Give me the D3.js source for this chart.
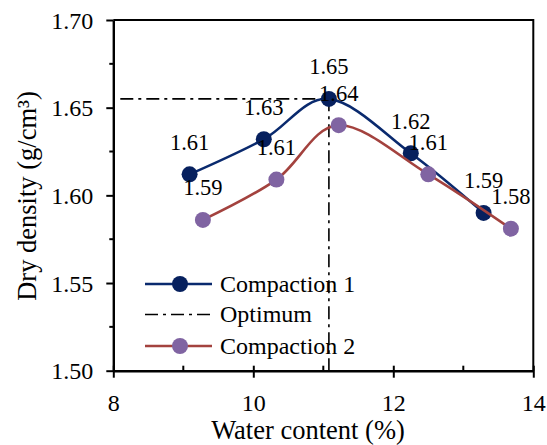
<!DOCTYPE html>
<html>
<head>
<meta charset="utf-8">
<script src="https://cdn.jsdelivr.net/npm/d3@7"></script>
<style>
  html, body { margin: 0; padding: 0; background: #fff; }
  svg { display: block; }
  text { font-family: "Liberation Serif", "Times New Roman", serif; fill: #000; }
</style>
</head>
<body>
<svg id="chart" width="547" height="445"></svg>
<script>
// ---- data ----
const comp1Water = [9.09, 10.15, 11.08, 12.25, 13.29];
const comp1Density = [1.612, 1.632, 1.655, 1.624, 1.590];
const comp1Labels = ["1.61", "1.63", "1.65", "1.62", "1.59"];

const comp2Water = [9.28, 10.33, 11.22, 12.50, 13.68];
const comp2Density = [1.586, 1.609, 1.640, 1.612, 1.581];
const comp2Labels = ["1.59", "1.61", "1.64", "1.61", "1.58"];

const optimumWater = [8.1, 11.08, 11.08];
const optimumDensity = [1.655, 1.655, 1.50];

const xTicks = [8, 10, 12, 14];
const xMinorTicks = [9, 11, 13];
const yTicks = [1.50, 1.55, 1.60, 1.65, 1.70];
const yMinorTicks = [1.525, 1.575, 1.625, 1.675];

const seriesNames = ["Compaction 1", "Optimum", "Compaction 2"];

// ---- layout ----
const svg = d3.select("#chart");
const m = { left: 113.3, right: 533.3, top: 20, bottom: 370.7 };
const x = d3.scaleLinear().domain([8, 14]).range([m.left, m.right]);
const y = d3.scaleLinear().domain([1.50, 1.70]).range([m.bottom, m.top]);

const navy = "#06205e";
const navyLine = "#0a2a6e";
const purple = "#8064a2";
const redLine = "#a3423e";

// frame (top & right)
svg.append("path")
  .attr("d", `M${m.left},${m.top}H${m.right}V${m.bottom}`)
  .attr("fill", "none").attr("stroke", "#000").attr("stroke-width", 2);

// x axis
const xAxis = svg.append("g").attr("transform", `translate(0,${m.bottom})`)
  .call(d3.axisBottom(x).tickValues(xTicks).tickFormat(d3.format("d")).tickSize(7).tickSizeOuter(0));
xAxis.select(".domain").attr("stroke-width", 2.4);
xAxis.selectAll(".tick line").attr("stroke-width", 2).attr("y1", -5);
xAxis.selectAll(".tick text").attr("font-size", 24).attr("font-family", "Liberation Serif").attr("dy", "0").attr("y", 40);
svg.append("g").selectAll("line").data(xMinorTicks).join("line")
  .attr("x1", d => x(d)).attr("x2", d => x(d))
  .attr("y1", m.bottom).attr("y2", m.bottom - 5)
  .attr("stroke", "#000").attr("stroke-width", 2);

// y axis
const yAxis = svg.append("g").attr("transform", `translate(${m.left},0)`)
  .call(d3.axisLeft(y).tickValues(yTicks).tickFormat(d3.format(".2f")).tickSize(7).tickSizeOuter(0));
yAxis.select(".domain").attr("stroke-width", 2.4);
yAxis.selectAll(".tick line").attr("stroke-width", 2);
yAxis.selectAll(".tick text").attr("font-size", 24).attr("font-family", "Liberation Serif")
  .attr("x", -20).attr("dy", "0.34em");
svg.append("g").selectAll("line").data(yMinorTicks).join("line")
  .attr("x1", m.left).attr("x2", m.left - 4)
  .attr("y1", d => y(d)).attr("y2", d => y(d))
  .attr("stroke", "#000").attr("stroke-width", 2);

// axis titles
svg.append("text").attr("x", 308).attr("y", 439)
  .attr("text-anchor", "middle").attr("font-size", 26.5).text("Water content (%)");
svg.append("text").attr("transform", `translate(36,196) rotate(-90)`)
  .attr("text-anchor", "middle").attr("font-size", 26.5).text("Dry density (g/cm³)");

// optimum lines
const optPts = optimumWater.map((w, i) => [x(w), y(optimumDensity[i])]);
svg.append("path").attr("d", d3.line()(optPts))
  .attr("fill", "none").attr("stroke", "#000").attr("stroke-width", 1.6)
  .attr("stroke-dasharray", "13,5,3,5");

// series
const line = d3.line().curve(d3.curveCardinal.tension(0));
function drawSeries(ws, ds, labels, lineColor, markerColor) {
  const pts = ws.map((w, i) => [x(w), y(ds[i])]);
  svg.append("path").attr("d", line(pts))
    .attr("fill", "none").attr("stroke", lineColor).attr("stroke-width", 2.6);
  svg.append("g").selectAll("circle").data(pts).join("circle")
    .attr("cx", d => d[0]).attr("cy", d => d[1]).attr("r", 8)
    .attr("fill", markerColor);
  return pts;
}
const p1 = drawSeries(comp1Water, comp1Density, comp1Labels, navyLine, navy);
const p2 = drawSeries(comp2Water, comp2Density, comp2Labels, redLine, purple);

// data labels
function drawLabels(pts, labels) {
  svg.append("g").selectAll("text").data(pts).join("text")
    .attr("x", d => d[0]).attr("y", d => d[1] - 24.5)
    .attr("text-anchor", "middle").attr("font-size", 22.5)
    .text((d, i) => labels[i]);
}
drawLabels(p1, comp1Labels);
drawLabels(p2, comp2Labels);

// legend
const legend = svg.append("g");
const lx1 = 145, lx2 = 212, lmx = 180, ltx = 220;
const rows = [284, 314.5, 346];
// Compaction 1
legend.append("line").attr("x1", lx1).attr("x2", lx2).attr("y1", rows[0]).attr("y2", rows[0])
  .attr("stroke", navyLine).attr("stroke-width", 2.6);
legend.append("circle").attr("cx", lmx).attr("cy", rows[0]).attr("r", 8).attr("fill", navy);
// Optimum
legend.append("line").attr("x1", lx1).attr("x2", lx2).attr("y1", rows[1]).attr("y2", rows[1])
  .attr("stroke", "#000").attr("stroke-width", 1.6).attr("stroke-dasharray", "13,5,3,5");
// Compaction 2
legend.append("line").attr("x1", lx1).attr("x2", lx2).attr("y1", rows[2]).attr("y2", rows[2])
  .attr("stroke", redLine).attr("stroke-width", 2.6);
legend.append("circle").attr("cx", lmx).attr("cy", rows[2]).attr("r", 8).attr("fill", purple);
legend.selectAll("text").data(seriesNames).join("text")
  .attr("x", ltx).attr("y", (d, i) => rows[i]).attr("dy", "0.33em")
  .attr("font-size", 24).text(d => d);
</script>
</body>
</html>
